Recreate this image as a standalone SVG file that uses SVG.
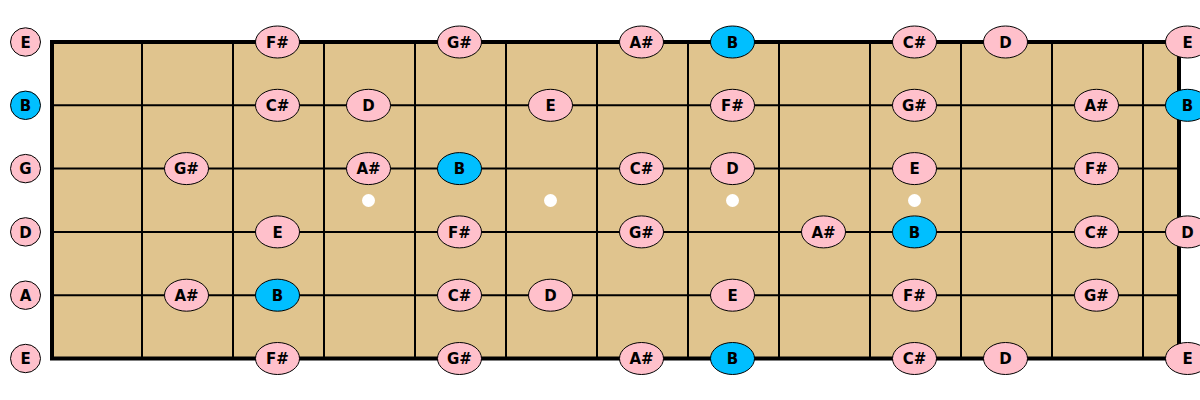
<svg xmlns="http://www.w3.org/2000/svg" width="1200" height="400" viewBox="0 0 1200 400">
<style>
.n ellipse{fill:#FFC0CB;stroke:#000;stroke-width:1}
.n.r ellipse{fill:#00BFFF}
.n text{font-family:"DejaVu Sans",sans-serif;font-weight:bold;font-size:15px;text-anchor:middle;fill:#000}
.str{stroke:#000;stroke-width:2}
.fret{stroke:#000;stroke-width:2}
.dot{fill:#fff}
</style>
<rect width="1200" height="400" fill="#fff"/>
<g id="board">
<rect x="52" y="42" width="1127" height="316.5" fill="#E0C48E"/>
<g class="str">
<line x1="52" y1="105.3" x2="1179" y2="105.3"/>
<line x1="52" y1="168.6" x2="1179" y2="168.6"/>
<line x1="52" y1="231.9" x2="1179" y2="231.9"/>
<line x1="52" y1="295.2" x2="1179" y2="295.2"/>
</g>
<g class="fret">
<line x1="142" y1="42" x2="142" y2="358.5"/>
<line x1="233" y1="42" x2="233" y2="358.5"/>
<line x1="324" y1="42" x2="324" y2="358.5"/>
<line x1="415" y1="42" x2="415" y2="358.5"/>
<line x1="506" y1="42" x2="506" y2="358.5"/>
<line x1="597" y1="42" x2="597" y2="358.5"/>
<line x1="688" y1="42" x2="688" y2="358.5"/>
<line x1="779" y1="42" x2="779" y2="358.5"/>
<line x1="870" y1="42" x2="870" y2="358.5"/>
<line x1="961" y1="42" x2="961" y2="358.5"/>
<line x1="1052" y1="42" x2="1052" y2="358.5"/>
<line x1="1143" y1="42" x2="1143" y2="358.5"/>
</g>
<rect x="52" y="42" width="1127" height="316.5" fill="none" stroke="#000" stroke-width="4"/>
<circle class="dot" cx="368.5" cy="200.5" r="6.5"/>
<circle class="dot" cx="550.5" cy="200.5" r="6.5"/>
<circle class="dot" cx="732.5" cy="200.5" r="6.5"/>
<circle class="dot" cx="914.5" cy="200.5" r="6.5"/>
</g>
<g id="notes">
<!-- high E string -->
<g id="e1-0" class="n"><ellipse cx="25.5" cy="42" rx="15" ry="14.2"/><text x="25.5" y="47.8">E</text></g>
<g id="e1-2" class="n"><ellipse cx="277.5" cy="42" rx="22" ry="16"/><text x="277.5" y="47.8">F#</text></g>
<g id="e1-4" class="n"><ellipse cx="459.5" cy="42" rx="22" ry="16"/><text x="459.5" y="47.8">G#</text></g>
<g id="e1-6" class="n"><ellipse cx="641.5" cy="42" rx="22" ry="16"/><text x="641.5" y="47.8">A#</text></g>
<g id="e1-7" class="n r"><ellipse cx="732.5" cy="42" rx="22" ry="16"/><text x="732.5" y="47.8">B</text></g>
<g id="e1-9" class="n"><ellipse cx="914.5" cy="42" rx="22" ry="16"/><text x="914.5" y="47.8">C#</text></g>
<g id="e1-10" class="n"><ellipse cx="1005.5" cy="42" rx="22" ry="16"/><text x="1005.5" y="47.8">D</text></g>
<g id="e1-12" class="n"><ellipse cx="1187.5" cy="42" rx="22" ry="16"/><text x="1187.5" y="47.8">E</text></g>
<!-- B string -->
<g id="b-0" class="n r"><ellipse cx="25.5" cy="105.3" rx="15" ry="14.2"/><text x="25.5" y="111.1">B</text></g>
<g id="b-2" class="n"><ellipse cx="277.5" cy="105.3" rx="22" ry="16"/><text x="277.5" y="111.1">C#</text></g>
<g id="b-3" class="n"><ellipse cx="368.5" cy="105.3" rx="22" ry="16"/><text x="368.5" y="111.1">D</text></g>
<g id="b-5" class="n"><ellipse cx="550.5" cy="105.3" rx="22" ry="16"/><text x="550.5" y="111.1">E</text></g>
<g id="b-7" class="n"><ellipse cx="732.5" cy="105.3" rx="22" ry="16"/><text x="732.5" y="111.1">F#</text></g>
<g id="b-9" class="n"><ellipse cx="914.5" cy="105.3" rx="22" ry="16"/><text x="914.5" y="111.1">G#</text></g>
<g id="b-11" class="n"><ellipse cx="1096.5" cy="105.3" rx="22" ry="16"/><text x="1096.5" y="111.1">A#</text></g>
<g id="b-12" class="n r"><ellipse cx="1187.5" cy="105.3" rx="22" ry="16"/><text x="1187.5" y="111.1">B</text></g>
<!-- G string -->
<g id="g-0" class="n"><ellipse cx="25.5" cy="168.6" rx="15" ry="14.2"/><text x="25.5" y="174.4">G</text></g>
<g id="g-1" class="n"><ellipse cx="186.5" cy="168.6" rx="22" ry="16"/><text x="186.5" y="174.4">G#</text></g>
<g id="g-3" class="n"><ellipse cx="368.5" cy="168.6" rx="22" ry="16"/><text x="368.5" y="174.4">A#</text></g>
<g id="g-4" class="n r"><ellipse cx="459.5" cy="168.6" rx="22" ry="16"/><text x="459.5" y="174.4">B</text></g>
<g id="g-6" class="n"><ellipse cx="641.5" cy="168.6" rx="22" ry="16"/><text x="641.5" y="174.4">C#</text></g>
<g id="g-7" class="n"><ellipse cx="732.5" cy="168.6" rx="22" ry="16"/><text x="732.5" y="174.4">D</text></g>
<g id="g-9" class="n"><ellipse cx="914.5" cy="168.6" rx="22" ry="16"/><text x="914.5" y="174.4">E</text></g>
<g id="g-11" class="n"><ellipse cx="1096.5" cy="168.6" rx="22" ry="16"/><text x="1096.5" y="174.4">F#</text></g>
<!-- D string -->
<g id="d-0" class="n"><ellipse cx="25.5" cy="231.9" rx="15" ry="14.2"/><text x="25.5" y="237.7">D</text></g>
<g id="d-2" class="n"><ellipse cx="277.5" cy="231.9" rx="22" ry="16"/><text x="277.5" y="237.7">E</text></g>
<g id="d-4" class="n"><ellipse cx="459.5" cy="231.9" rx="22" ry="16"/><text x="459.5" y="237.7">F#</text></g>
<g id="d-6" class="n"><ellipse cx="641.5" cy="231.9" rx="22" ry="16"/><text x="641.5" y="237.7">G#</text></g>
<g id="d-8" class="n"><ellipse cx="823.5" cy="231.9" rx="22" ry="16"/><text x="823.5" y="237.7">A#</text></g>
<g id="d-9" class="n r"><ellipse cx="914.5" cy="231.9" rx="22" ry="16"/><text x="914.5" y="237.7">B</text></g>
<g id="d-11" class="n"><ellipse cx="1096.5" cy="231.9" rx="22" ry="16"/><text x="1096.5" y="237.7">C#</text></g>
<g id="d-12" class="n"><ellipse cx="1187.5" cy="231.9" rx="22" ry="16"/><text x="1187.5" y="237.7">D</text></g>
<!-- A string -->
<g id="a-0" class="n"><ellipse cx="25.5" cy="295.2" rx="15" ry="14.2"/><text x="25.5" y="301">A</text></g>
<g id="a-1" class="n"><ellipse cx="186.5" cy="295.2" rx="22" ry="16"/><text x="186.5" y="301">A#</text></g>
<g id="a-2" class="n r"><ellipse cx="277.5" cy="295.2" rx="22" ry="16"/><text x="277.5" y="301">B</text></g>
<g id="a-4" class="n"><ellipse cx="459.5" cy="295.2" rx="22" ry="16"/><text x="459.5" y="301">C#</text></g>
<g id="a-5" class="n"><ellipse cx="550.5" cy="295.2" rx="22" ry="16"/><text x="550.5" y="301">D</text></g>
<g id="a-7" class="n"><ellipse cx="732.5" cy="295.2" rx="22" ry="16"/><text x="732.5" y="301">E</text></g>
<g id="a-9" class="n"><ellipse cx="914.5" cy="295.2" rx="22" ry="16"/><text x="914.5" y="301">F#</text></g>
<g id="a-11" class="n"><ellipse cx="1096.5" cy="295.2" rx="22" ry="16"/><text x="1096.5" y="301">G#</text></g>
<!-- low E string -->
<g id="e6-0" class="n"><ellipse cx="25.5" cy="358.5" rx="15" ry="14.2"/><text x="25.5" y="364.3">E</text></g>
<g id="e6-2" class="n"><ellipse cx="277.5" cy="358.5" rx="22" ry="16"/><text x="277.5" y="364.3">F#</text></g>
<g id="e6-4" class="n"><ellipse cx="459.5" cy="358.5" rx="22" ry="16"/><text x="459.5" y="364.3">G#</text></g>
<g id="e6-6" class="n"><ellipse cx="641.5" cy="358.5" rx="22" ry="16"/><text x="641.5" y="364.3">A#</text></g>
<g id="e6-7" class="n r"><ellipse cx="732.5" cy="358.5" rx="22" ry="16"/><text x="732.5" y="364.3">B</text></g>
<g id="e6-9" class="n"><ellipse cx="914.5" cy="358.5" rx="22" ry="16"/><text x="914.5" y="364.3">C#</text></g>
<g id="e6-10" class="n"><ellipse cx="1005.5" cy="358.5" rx="22" ry="16"/><text x="1005.5" y="364.3">D</text></g>
<g id="e6-12" class="n"><ellipse cx="1187.5" cy="358.5" rx="22" ry="16"/><text x="1187.5" y="364.3">E</text></g>
</g>
<g id="connectors"/>
</svg>
